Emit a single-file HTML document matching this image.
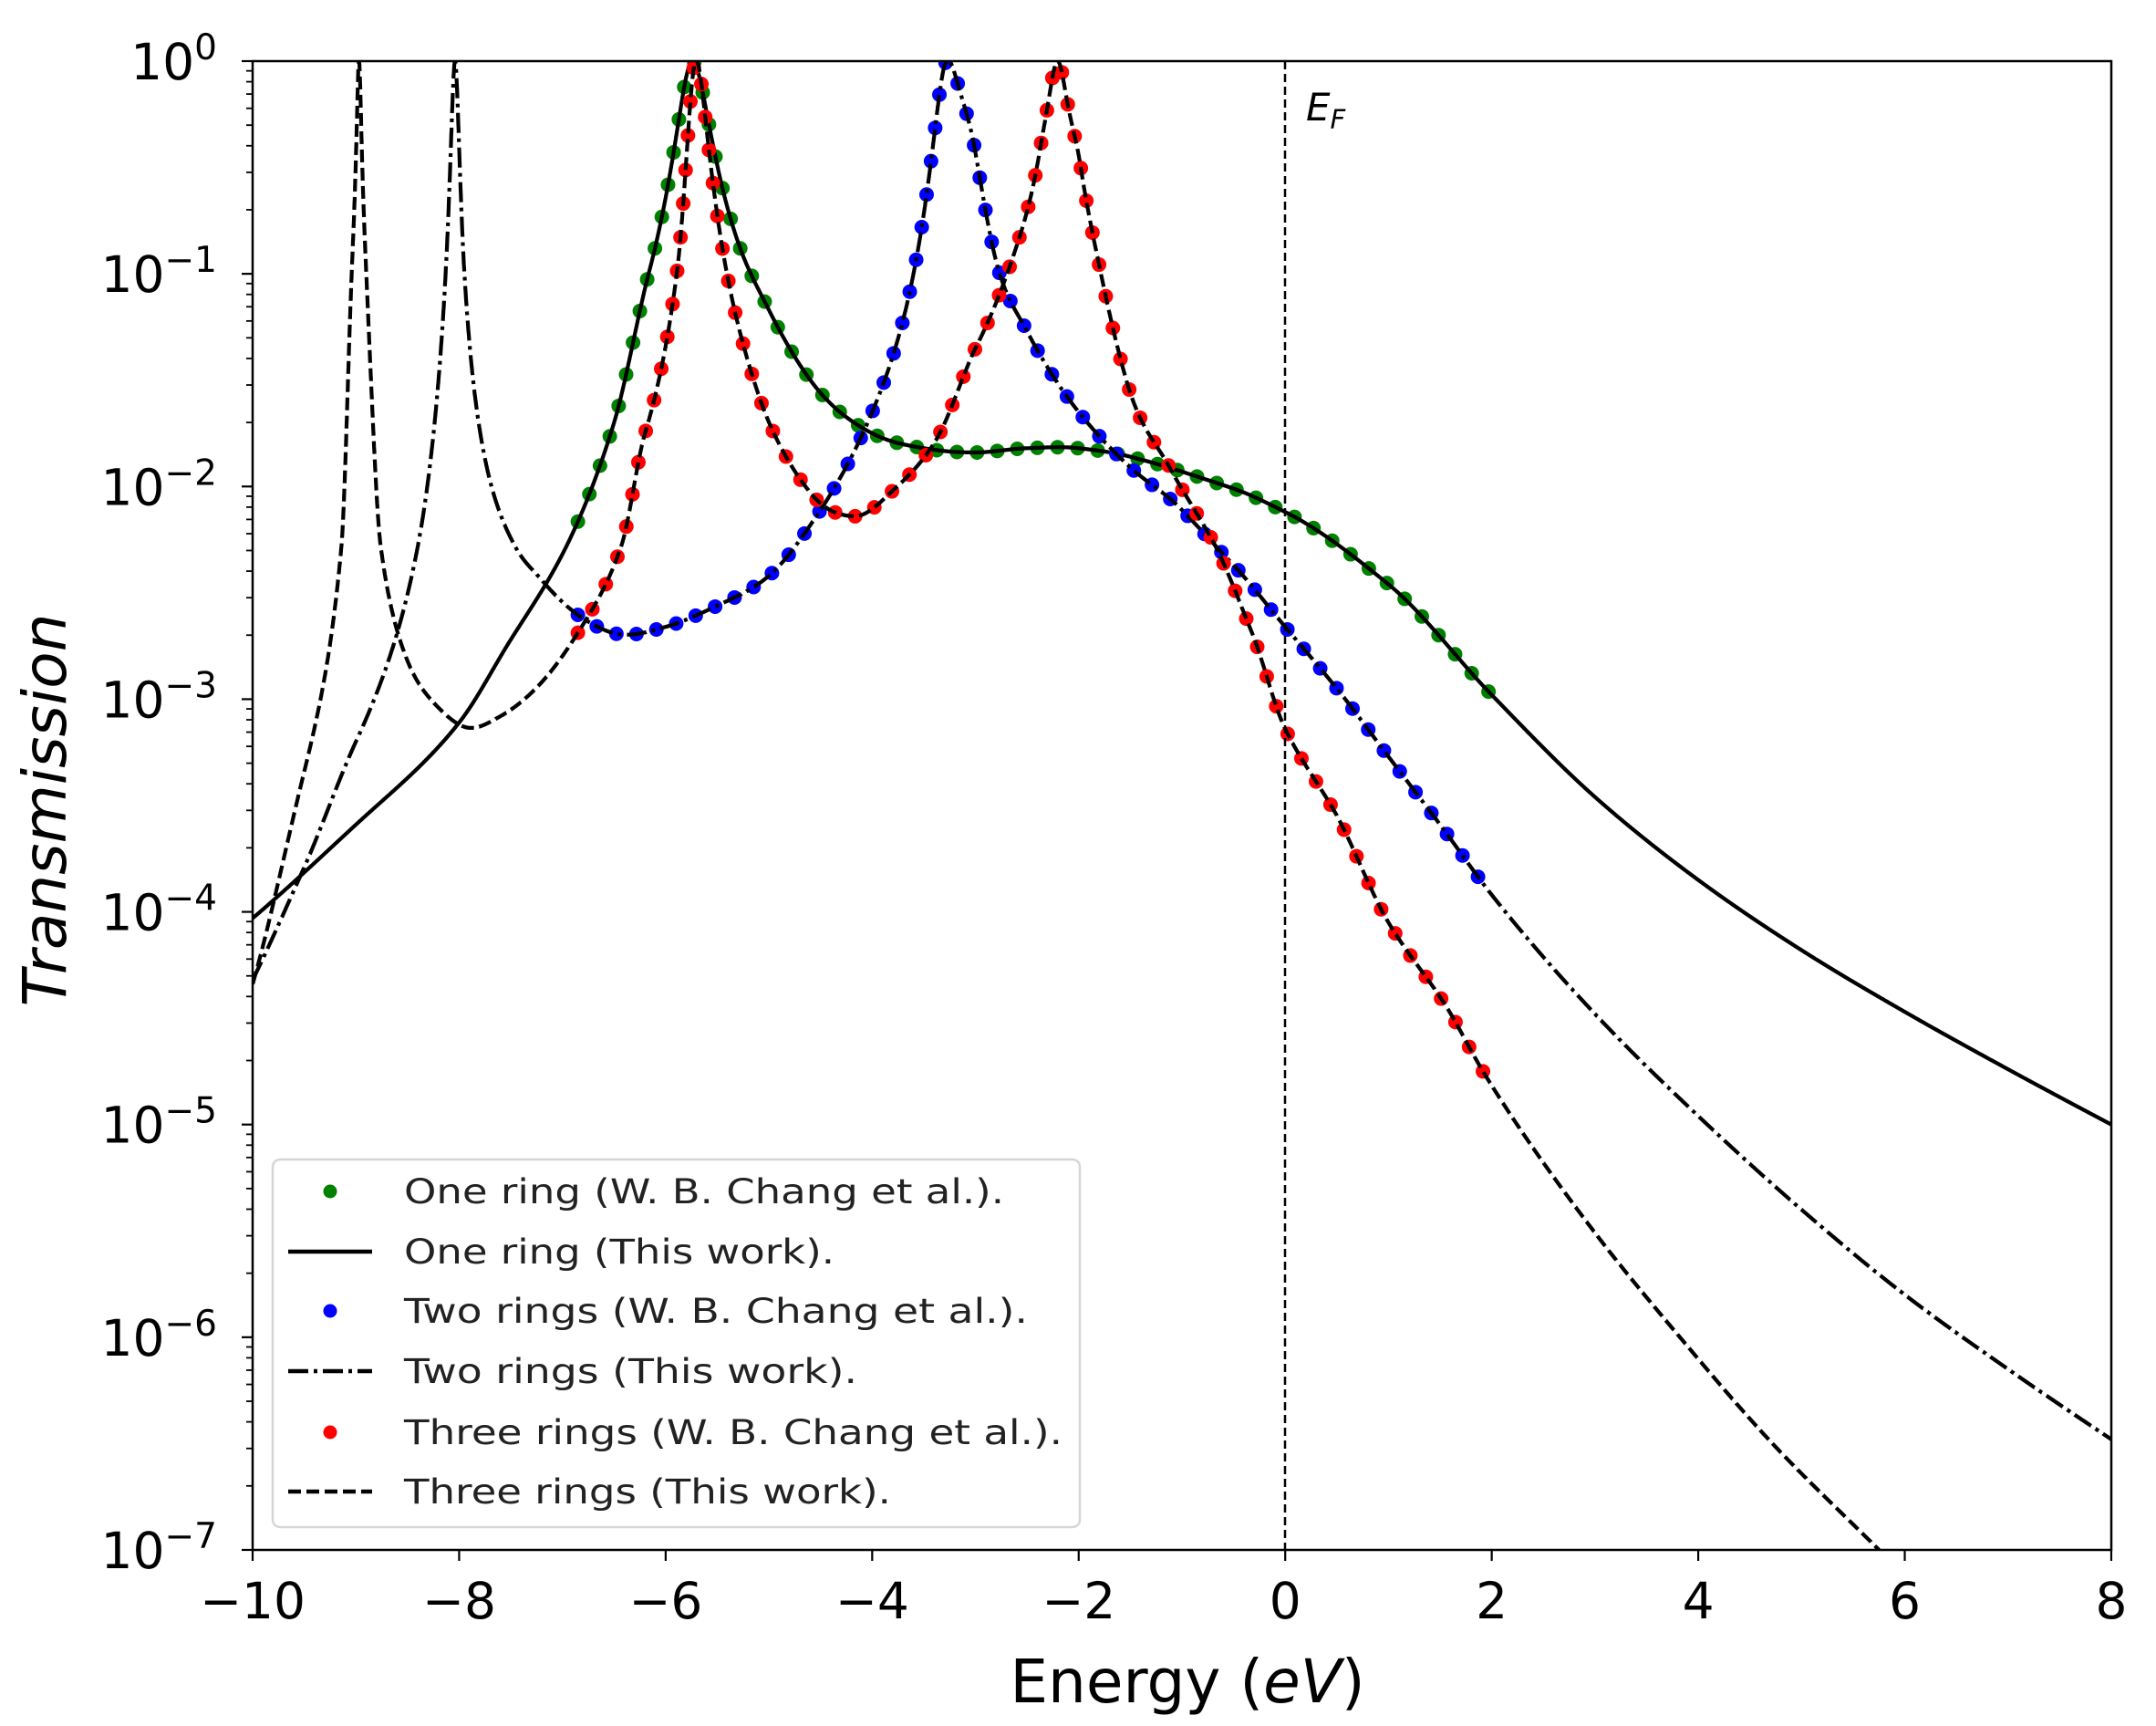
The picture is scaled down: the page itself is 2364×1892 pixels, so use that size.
<!DOCTYPE html>
<html><head><meta charset="utf-8">
<style>
html,body{margin:0;padding:0;background:#fff;width:2364px;height:1892px;overflow:hidden;}
svg{display:block;font-family:"DejaVu Sans","Liberation Sans",sans-serif;}
</style></head>
<body>
<svg id="s" width="2364" height="1892" viewBox="0 0 2364 1892" xmlns="http://www.w3.org/2000/svg">
<defs><clipPath id="cp"><rect x="277" y="67" width="2038" height="1632"/></clipPath></defs>
<rect width="2364" height="1892" fill="#fff"/>
<g id="plot" clip-path="url(#cp)"></g>
<line x1="1409" y1="67" x2="1409" y2="1699" stroke="#000" stroke-width="2.5" stroke-dasharray="9,5"/>
<g id="ticks" stroke="#000" stroke-width="2.2"></g>
<rect x="277" y="67" width="2038" height="1632" fill="none" stroke="#000" stroke-width="2.5"/>
<g id="labels" fill="#000"></g>
<text x="1432" y="132" font-size="42" font-style="italic">E<tspan font-size="29" dy="9">F</tspan></text>
<text x="1302" y="1866" font-size="66" text-anchor="middle">Energy (<tspan font-style="italic">eV</tspan>)</text>
<text transform="translate(72,888) rotate(-90)" font-size="66" font-style="italic" text-anchor="middle">Transmission</text>
<g id="legend">
<rect x="299" y="1271" width="885" height="403" rx="8" fill="#fff" fill-opacity="0.85" stroke="#d6d6d6" stroke-width="2.5"/>
<circle cx="362" cy="1306" r="7.5" fill="#008000"/>
<line x1="316" y1="1372" x2="408" y2="1372" stroke="#000" stroke-width="4.5"/>
<circle cx="362" cy="1437" r="7.5" fill="#0000ff"/>
<line x1="316" y1="1503" x2="408" y2="1503" stroke="#000" stroke-width="4.5" stroke-dasharray="22,6,4,6"/>
<circle cx="362" cy="1570" r="7.5" fill="#ff0000"/>
<line x1="316" y1="1635" x2="408" y2="1635" stroke="#000" stroke-width="4.5" stroke-dasharray="14,6"/>
<g font-size="37" fill="#222">
<text x="443" y="1319" textLength="658" lengthAdjust="spacingAndGlyphs">One ring (W. B. Chang et al.).</text>
<text x="443" y="1385" textLength="472" lengthAdjust="spacingAndGlyphs">One ring (This work).</text>
<text x="443" y="1450" textLength="684" lengthAdjust="spacingAndGlyphs">Two rings (W. B. Chang et al.).</text>
<text x="443" y="1516" textLength="497" lengthAdjust="spacingAndGlyphs">Two rings (This work).</text>
<text x="443" y="1583" textLength="722" lengthAdjust="spacingAndGlyphs">Three rings (W. B. Chang et al.).</text>
<text x="443" y="1648" textLength="534" lengthAdjust="spacingAndGlyphs">Three rings (This work).</text>
</g>
</g>
</svg>
<script>
(function(){
var NS="http://www.w3.org/2000/svg";
function X(E){return 277+(E+10)*113.22;}
function Y(l){return 67-l*233.14;}
function el(t,a,p){var e=document.createElementNS(NS,t);for(var k in a)e.setAttribute(k,a[k]);p.appendChild(e);return e;}
var ticks=document.getElementById('ticks'),labels=document.getElementById('labels');
for(var d=0;d>=-7;d--){var y=Y(d);el('line',{x1:265,y1:y,x2:277,y2:y},ticks);
 var t=el('text',{x:238,y:y+20,'font-size':55,'text-anchor':'end'},labels);t.appendChild(document.createTextNode('10'));
 var ts=el('tspan',{'font-size':39,dy:-22},t);ts.appendChild(document.createTextNode(d==0?'0':'\u2212'+(-d)));
 if(d>-7){for(var m=2;m<=9;m++){var ym=Y(d-1+Math.log10(m));el('line',{x1:270,y1:ym,x2:277,y2:ym,'stroke-width':1.8},ticks);}}
}
for(var e=-10;e<=8;e+=2){var x=X(e);el('line',{x1:x,y1:1699,x2:x,y2:1711},ticks);
 var t2=el('text',{x:x,y:1774,'font-size':55,'text-anchor':'middle'},labels);t2.appendChild(document.createTextNode(e<0?'\u2212'+(-e):''+e));}
function mk(pts,peaks){
 function P(E){var s=0;peaks.forEach(function(p){var u=(E-p[0])/p[1];s-=Math.log10(1+u*u);});return s;}
 var xs=[],ss=[];pts.forEach(function(p){xs.push(p[0]);ss.push(p[1]-P(p[0]));});
 var n=xs.length,dl=[],m=[];
 for(var i=0;i<n-1;i++)dl.push((ss[i+1]-ss[i])/(xs[i+1]-xs[i]));
 m[0]=dl[0];m[n-1]=dl[n-2];
 for(var i=1;i<n-1;i++){if(dl[i-1]*dl[i]<=0)m[i]=0;else{var w1=2*(xs[i+1]-xs[i])+(xs[i]-xs[i-1]),w2=(xs[i+1]-xs[i])+2*(xs[i]-xs[i-1]);m[i]=(w1+w2)/(w1/dl[i-1]+w2/dl[i]);}}
 function S(E){var i=0;while(i<n-2&&E>xs[i+1])i++;var h=xs[i+1]-xs[i],t=(E-xs[i])/h;if(t<0)t=0;if(t>1)t=1;
  var t2=t*t,t3=t2*t;return (2*t3-3*t2+1)*ss[i]+(t3-2*t2+t)*h*m[i]+(-2*t3+3*t2)*ss[i+1]+(t3-t2)*h*m[i+1];}
 return function(E){return S(E)+P(E);};
}
var one=mk([[-10,-4.03],[-9,-3.59],[-8,-3.11],[-7.5,-2.72],[-6.94,-2.26],[-6.5,-1.7],[-6.16,-0.99],[-5.74,0],[-5.5,-0.49],[-5.3,-0.85],[-5,-1.17],[-4.5,-1.56],[-4,-1.75],[-3.5,-1.82],[-3,-1.84],[-2.5,-1.82],[-2,-1.82],[-1.5,-1.86],[-1,-1.93],[-0.5,-2.01],[0,-2.12],[1,-2.46],[2,-2.98],[3,-3.46],[4,-3.85],[5,-4.18],[6,-4.47],[7,-4.74],[8,-5.0]],[[-5.74,0.14]]);
var two=mk([[-10,-4.32],[-9.5,-3.79],[-9,-3.2],[-8.4,-2.28],[-8.13,-0.99],[-8.04,0],[-7.95,-0.99],[-7.46,-2.28],[-7.2,-2.44],[-6.8,-2.62],[-6.5,-2.69],[-6,-2.66],[-5.5,-2.56],[-5,-2.42],[-4.5,-2.11],[-4,-1.65],[-3.6,-1.0],[-3.28,0],[-3,-0.43],[-2.8,-0.94],[-2.5,-1.27],[-2,-1.65],[-1.5,-1.91],[-1,-2.11],[-0.5,-2.37],[0,-2.66],[0.5,-2.95],[1,-3.27],[1.5,-3.59],[2,-3.92],[3,-4.48],[4,-4.96],[5,-5.4],[6,-5.8],[7,-6.15],[8,-6.48]],[[-8.04,0.035],[-3.28,0.12]]);
var three=mk([[-10,-4.34],[-9.5,-3.34],[-9.14,-2.28],[-9.04,-0.99],[-8.97,0],[-8.9,-0.99],[-8.76,-2.28],[-8.5,-2.82],[-8.2,-3.04],[-7.95,-3.13],[-7.6,-3.08],[-7.2,-2.92],[-6.84,-2.68],[-6.43,-2.28],[-6.2,-1.75],[-5.89,-0.99],[-5.71,0],[-5.51,-0.69],[-5.25,-1.33],[-4.98,-1.72],[-4.58,-2.04],[-4.18,-2.14],[-3.78,-2.01],[-3.38,-1.78],[-2.98,-1.33],[-2.65,-0.94],[-2.38,-0.43],[-2.2,0],[-1.98,-0.5],[-1.78,-1.01],[-1.52,-1.53],[-1.12,-1.91],[-0.72,-2.24],[-0.32,-2.69],[0,-3.14],[0.48,-3.53],[1,-4.05],[1.54,-4.43],[1.94,-4.77],[2.97,-5.49],[3.84,-6.01],[4.7,-6.49],[5.73,-6.99],[8,-8.07]],[[-8.97,0.02],[-5.71,0.09],[-2.2,0.09]]);
var g=document.getElementById('plot');
function path(f,dash){var d='';for(var E=-10;E<=8.0001;E+=0.002){var l=Math.min(f(E),0.05);d+=(d?'L':'M')+X(E).toFixed(1)+','+Y(l).toFixed(1);}
 var a={d:d,fill:'none',stroke:'#000','stroke-width':4.2};if(dash)a['stroke-dasharray']=dash;el('path',a,g);}
function dots(f,c){var step=22,acc=step,px=null,py=null;
 for(var E=-6.85;E<=2.0001;E+=0.001){var x=X(E),y=Y(Math.min(f(E),0));
  if(px!==null){var dx=x-px,dy=0.6*(y-py);acc+=Math.sqrt(dx*dx+dy*dy);}
  px=x;py=y;
  if(acc>=step){acc=0;el('circle',{cx:x,cy:y,r:8,fill:c},g);}}}
dots(one,'#008000');path(one);
dots(two,'#0000ff');path(two,'22,6,4,6');
dots(three,'#ff0000');path(three,'14,6');
})();
</script>
</body></html>
